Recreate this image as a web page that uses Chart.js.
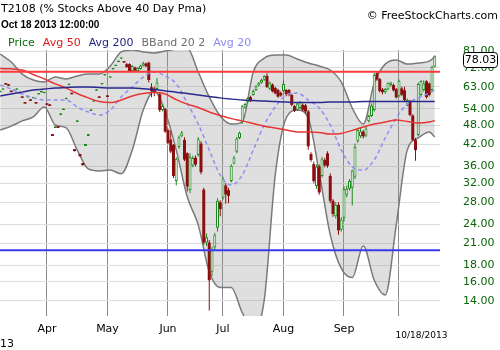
<!DOCTYPE html>
<html>
<head>
<meta charset="utf-8">
<title>T2108</title>
<script src="https://cdn.jsdelivr.net/npm/chart.js@4/dist/chart.umd.min.js"></script>
<style>
  html, body { margin: 0; padding: 0; background: #fff; }
  #wrap { width: 500px; height: 350px; position: relative; }
</style>
</head>
<body>
<div id="wrap"><canvas id="chart"></canvas></div>
<script>
// ---- text ----
const titleText = 'T2108 (% Stocks Above 40 Day Pma)';
const stampText = 'Oct 18 2013 12:00:00';
const creditText = '\u00A9 FreeStockCharts.com';
const lastDateText = '10/18/2013';
const yearStub = '13';
const legendNames = ['Price', 'Avg 50', 'Avg 200', 'BBand 20 2', 'Avg 20'];

// ---- axes ----
const monthTicks = [17, 39, 61, 81, 103, 125, 145];          // first trading day of each month
const monthLabels = ['Apr', 'May', 'Jun', 'Jul', 'Aug', 'Sep', ''];
const yTicks = [14, 16, 18, 21, 24, 28, 32, 36, 42, 48, 54, 63, 72, 81];
const xMin = -0.09, xMax = 159.91;
const yMin = 12.6, yMax = 81.6;

// ---- daily OHLC (Mar 6 .. Oct 18, 2013) ----
const opens = [
  60.7, 61.7, 64.6, 64.1, 61.3, 61.2, 61.7, 60.8, 58.9, 56.6,
  58.5, 57.7, 58.1, 56.6, 59.7, 60.5, 60.2, 56.1, 55.7, 45.2,
  47.2, 47.8, 51.7, 53.5, 57.7, 63.8, 60.4, 40.7, 49.2, 39.3,
  36.9, 41.6, 44.6, 53.2, 56.7, 61.3, 58.9, 64.0, 68.2, 59.3,
  67.2, 71.2, 72.9, 75.0, 76.7, 75.3,
  73.9, 73.9, 70.4, 72.2, 70.4, 71.4, 73.0, 74.2, 74.6, 62.8,
  62.2, 62.0, 59.8, 53.5, 53.8, 46.5, 43.5, 41.9, 32.5, 41.3,
  44.5, 43.4, 39.5, 30.5, 36.2, 38.3, 39.0, 42.3, 30.6, 21.1,
  21.1, 17.2, 20.4, 23.4, 28.0, 28.9, 31.5, 30.5, 32.5, 36.8,
  39.9, 44.0, 49.1, 54.5, 56.5, 58.6, 59.5, 61.6, 63.6, 64.8,
  66.2, 68.0, 62.2, 64.0, 62.5, 61.6, 60.4, 61.2, 61.6, 61.6,
  59.5, 55.0, 53.6, 54.3, 55.5, 55.3, 53.0, 39.3, 36.6, 31.4,
  36.0, 33.7, 37.7, 39.5, 33.7, 28.3, 25.4, 27.5, 23.1, 25.1,
  29.5, 30.8, 31.0, 33.5, 43.0, 44.5, 46.0, 44.8, 49.5, 51.3,
  53.5, 69.3, 66.5, 61.8, 60.6, 61.8, 63.8, 63.8, 62.0, 59.0,
  62.3, 61.5, 55.2, 57.0, 51.5, 43.4, 44.9, 59.5, 61.6, 65.5,
  64.5, 61.6, 72.5
];
const highs = [
  61.3, 62.3, 64.6, 64.1, 61.3, 61.8, 62.3, 60.8, 58.9, 56.6,
  59.1, 57.7, 58.7, 56.6, 60.3, 61.1, 60.8, 56.1, 55.7, 45.2,
  47.8, 47.8, 52.3, 54.1, 58.3, 64.4, 60.4, 40.7, 49.8, 39.3,
  36.9, 42.2, 45.2, 53.8, 57.3, 61.9, 58.9, 64.6, 68.8, 59.3,
  67.8, 71.8, 73.5, 75.6, 77.3, 75.3,
  74.5, 74.4, 73.4, 72.6, 72.3, 73.6, 75.2, 74.8, 75.3, 64.6,
  63.2, 67.0, 60.5, 55.8, 54.3, 47.0, 46.3, 42.2, 38.5, 44.8,
  46.2, 44.2, 39.8, 39.5, 38.8, 38.9, 44.3, 43.0, 31.0, 22.5,
  21.5, 20.5, 22.6, 28.8, 28.4, 33.5, 32.0, 31.0, 36.6, 38.8,
  44.3, 46.0, 55.5, 56.3, 58.6, 59.2, 61.8, 63.8, 65.2, 66.8,
  68.5, 69.3, 65.4, 64.5, 63.0, 62.2, 61.0, 66.0, 62.0, 62.0,
  60.0, 55.5, 56.4, 57.0, 56.0, 55.8, 53.5, 39.8, 37.2, 36.5,
  36.5, 38.5, 38.3, 40.1, 34.3, 28.6, 28.0, 28.0, 25.2, 31.3,
  31.5, 33.0, 35.2, 42.3, 47.0, 47.3, 46.5, 47.5, 51.8, 56.0,
  69.5, 70.0, 67.0, 62.5, 62.5, 65.0, 65.3, 64.5, 62.5, 66.3,
  63.0, 63.0, 58.0, 57.5, 52.0, 44.0, 65.0, 66.0, 66.0, 66.0,
  65.0, 73.0, 78.6
];
const lows = [
  60.7, 61.7, 64.0, 63.5, 60.7, 61.2, 61.7, 60.2, 58.3, 56.0,
  58.5, 57.1, 58.1, 56.0, 59.7, 60.5, 60.2, 55.5, 55.1, 44.6,
  47.2, 47.2, 51.7, 53.5, 57.7, 63.8, 59.8, 40.1, 49.2, 38.7,
  36.3, 41.6, 44.6, 53.2, 56.7, 61.3, 58.3, 64.0, 68.2, 58.7,
  67.2, 71.2, 72.9, 75.0, 76.7, 74.7,
  72.0, 70.0, 70.1, 70.2, 70.0, 71.0, 72.8, 72.4, 65.0, 58.6,
  59.0, 61.5, 52.8, 53.0, 45.6, 42.1, 39.5, 33.2, 31.5, 40.8,
  44.2, 37.4, 30.2, 29.9, 35.8, 36.0, 38.6, 34.1, 20.8, 20.6,
  13.1, 16.7, 20.0, 22.8, 25.4, 28.5, 27.7, 27.8, 32.2, 36.5,
  39.5, 43.6, 48.6, 54.0, 56.2, 56.6, 59.2, 61.2, 63.2, 64.4,
  65.8, 62.5, 61.6, 60.6, 59.8, 58.4, 58.8, 60.8, 59.0, 59.0,
  55.0, 52.8, 53.2, 54.0, 53.0, 52.2, 40.5, 37.2, 32.0, 30.8,
  29.5, 33.3, 35.8, 35.7, 27.8, 25.3, 25.0, 22.3, 22.8, 24.5,
  29.0, 30.4, 27.4, 33.0, 42.5, 44.0, 43.8, 44.2, 49.0, 51.0,
  53.0, 65.8, 60.5, 59.8, 60.0, 61.5, 63.0, 61.0, 58.0, 58.6,
  59.0, 57.0, 55.0, 51.2, 43.0, 37.5, 44.5, 59.0, 61.0, 58.0,
  59.0, 61.0, 72.3
];
const closes = [
  61.3, 62.3, 64.0, 63.5, 60.7, 61.8, 62.3, 60.2, 58.3, 56.0,
  59.1, 57.1, 58.7, 56.0, 60.3, 61.1, 60.8, 55.5, 55.1, 44.6,
  47.8, 47.2, 52.3, 54.1, 58.3, 64.4, 59.8, 40.1, 49.8, 38.7,
  36.3, 42.2, 45.2, 53.8, 57.3, 61.9, 58.3, 64.6, 68.8, 58.7,
  67.8, 71.8, 73.5, 75.6, 77.3, 74.7,
  72.4, 70.4, 72.9, 70.6, 71.9, 73.2, 74.4, 72.8, 66.1, 61.2,
  60.4, 64.9, 53.5, 55.1, 46.0, 42.5, 40.0, 33.7, 38.0, 44.2,
  45.7, 37.8, 31.3, 38.5, 38.2, 36.5, 43.6, 34.6, 21.1, 21.9,
  16.2, 20.0, 22.2, 28.3, 26.7, 33.0, 29.6, 29.3, 36.2, 38.3,
  43.8, 45.6, 55.0, 55.8, 58.2, 57.0, 61.2, 63.3, 64.8, 66.2,
  68.0, 62.9, 64.8, 61.0, 60.2, 58.8, 59.3, 64.3, 59.8, 59.5,
  55.5, 53.2, 56.0, 56.5, 53.6, 53.0, 41.5, 37.7, 32.5, 36.0,
  30.0, 37.9, 36.3, 36.2, 28.3, 25.8, 27.5, 23.0, 24.8, 30.7,
  30.8, 32.5, 35.0, 41.3, 46.5, 46.0, 44.5, 47.0, 51.3, 55.3,
  68.5, 66.3, 61.2, 60.7, 62.0, 64.8, 65.0, 61.5, 58.5, 65.8,
  59.6, 57.4, 57.4, 51.7, 43.4, 40.4, 64.3, 65.6, 64.5, 58.6,
  59.5, 72.5, 78.03
];

// ---- indicator readings, sampled every 4 trading days ----
const lineDays = [0, 4, 8, 12, 16, 20, 24, 28, 32, 36, 40, 44, 48, 52, 56, 60, 64, 68, 72, 76,
  80, 84, 88, 92, 96, 100, 104, 108, 112, 116, 120, 124, 128, 132, 136, 140, 144, 148, 152, 156, 158];
const avg200 = [59.1, 59.9, 60.7, 61.6, 62.0, 62.5, 62.7, 62.9, 62.9, 62.7, 62.5, 62.5, 62.5, 62.2, 61.8,
  61.2, 60.7, 60.1, 59.5, 58.9, 58.3, 57.8, 57.4, 57.2, 57.0, 56.8, 56.6, 56.4, 56.4, 56.4, 56.6, 56.6,
  56.6, 56.8, 56.8, 56.8, 56.8, 56.8, 56.8, 56.8, 56.8];
const avg50 = [71.6, 71.5, 70.9, 68.7, 66.6, 64.3, 62.5, 60.1, 58.3, 56.8, 56.4, 57.4, 59.1, 60.1, 60.5,
  59.9, 57.6, 55.8, 54.5, 52.8, 51.5, 50.4, 49.6, 48.7, 47.8, 47.2, 46.5, 45.9, 45.9, 45.7, 45.2, 45.4,
  46.4, 47.5, 48.5, 49.2, 49.9, 49.4, 48.9, 49.2, 49.7];
const bandUpper = [79.3, 75.0, 68.9, 66.1, 65.2, 67.5, 66.6, 68.0, 68.9, 68.9, 72.9, 80.5, 81.6, 80.5, 79.9,
  81.0, 82.2, 82.7, 69.9, 58.7, 51.3, 48.5, 49.2, 69.9, 77.1, 78.8, 78.8, 76.6, 74.5, 72.9, 70.9, 65.2,
  54.3, 48.5, 64.7, 73.9, 76.1, 73.9, 74.5, 75.5, 77.7];
const bandLower = [46.5, 47.8, 49.6, 51.0, 54.7, 48.2, 47.2, 40.4, 35.4, 34.9, 35.1, 34.2, 40.4, 53.5, 61.2,
  52.8, 40.4, 29.1, 23.9, 17.2, 15.4, 15.4, 12.9, 11.4, 14.1, 33.9, 50.6, 53.5, 50.6, 34.4, 22.3, 17.6,
  16.5, 20.6, 16.2, 14.6, 23.9, 40.4, 44.0, 45.9, 44.3];
const avg20 = [63.8, 62.0, 59.9, 58.3, 57.4, 57.4, 57.4, 54.7, 52.8, 51.7, 53.5, 58.7, 62.9, 67.5, 69.9,
  68.0, 64.3, 56.2, 48.5, 40.4, 33.9, 31.6, 33.9, 40.4, 48.2, 54.7, 59.5, 60.3, 57.4, 54.3, 48.2, 40.4,
  35.9, 35.1, 37.7, 44.0, 50.6, 55.8, 58.3, 60.3, 61.6];

// overbought / oversold levels
const levels = [70, 20];

// ---- styling ----
const upColor = '#1b8a1b';
const downColor = '#8c0f0f';
const hollowFill = '#f6f6f6';
const legendColors = ['#0a6a0a', '#e01a1a', '#1e1e84', '#6e6e6e', '#8a8af2'];

const isUp = i => closes[i] >= opens[i];
const dayIdx = closes.map((_, i) => i);
const linePoints = arr => lineDays.map((d, k) => ({ x: d, y: arr[k] }));
const levelPoints = v => [{ x: xMin, y: v }, { x: xMax, y: v }];

const lineBase = {
  type: 'line', pointRadius: 0, borderWidth: 1.5, fill: false,
  cubicInterpolationMode: 'monotone'
};

const decorations = {
  id: 'decorations',
  afterDraw(chart) {
    const ctx = chart.ctx;
    const ys = chart.scales.y;
    ctx.save();
    ctx.textBaseline = 'middle';
    ctx.textAlign = 'left';
    ctx.fillStyle = '#000';
    ctx.font = '11px "DejaVu Sans"';
    ctx.fillText(titleText, 1, 9);
    ctx.font = 'bold 10px "Liberation Sans"';
    ctx.fillText(stampText, 1, 25);

    ctx.font = '11px "DejaVu Sans"';
    let lx = 8;
    legendNames.forEach((name, i) => {
      ctx.fillStyle = legendColors[i];
      ctx.fillText(name, lx, 43);
      lx += ctx.measureText(name).width + 8;
    });

    ctx.fillStyle = '#000';
    ctx.textAlign = 'right';
    ctx.fillText(creditText, 498, 16);

    ctx.textAlign = 'left';
    ctx.fillText(yearStub, 0, 344);
    ctx.font = '9px "DejaVu Sans"';
    ctx.textAlign = 'center';
    ctx.fillText(lastDateText, 421.5, 336);

    // last close tag on the value axis
    const last = closes[closes.length - 1];
    const py = Math.round(ys.getPixelForValue(last) + 3.5);
    ctx.beginPath();
    ctx.roundRect(463.5, py - 7.5, 34, 15, 3);
    ctx.fillStyle = '#fff';
    ctx.fill();
    ctx.strokeStyle = '#000';
    ctx.lineWidth = 1;
    ctx.stroke();
    ctx.fillStyle = '#000';
    ctx.font = '11px "DejaVu Sans"';
    ctx.fillText(last.toFixed(2), 480.5, py);
    ctx.restore();
  }
};

new Chart(document.getElementById('chart'), {
  type: 'bar',
  data: {
    datasets: [
      Object.assign({}, lineBase, {
        label: 'BBand upper', data: linePoints(bandUpper), borderColor: '#7a7a7a',
        fill: '+1', backgroundColor: 'rgba(150,150,150,0.30)', order: 8
      }),
      Object.assign({}, lineBase, {
        label: 'BBand lower', data: linePoints(bandLower), borderColor: '#7a7a7a', order: 7
      }),
      {
        type: 'bar', label: 'Wick',
        data: dayIdx.map(i => ({ x: i, y: [lows[i], highs[i]] })),
        backgroundColor: c => isUp(c.dataIndex) ? upColor : downColor,
        barThickness: 1, grouped: false, inflateAmount: 0, minBarLength: 1, order: 6
      },
      {
        type: 'bar', label: 'Price',
        data: dayIdx.map(i => ({ x: i, y: [opens[i], closes[i]] })),
        backgroundColor: c => isUp(c.dataIndex) ? hollowFill : downColor,
        borderColor: c => isUp(c.dataIndex) ? upColor : downColor,
        borderWidth: c => isUp(c.dataIndex) ? 1 : 0,
        borderSkipped: false, barThickness: 3, grouped: false, inflateAmount: 0,
        minBarLength: 1.5, order: 5
      },
      Object.assign({}, lineBase, {
        label: 'Avg 20', data: linePoints(avg20), borderColor: '#8f8ff5', borderDash: [4, 3], order: 4
      }),
      Object.assign({}, lineBase, {
        label: 'Avg 50', data: linePoints(avg50), borderColor: '#e83535', order: 3
      }),
      Object.assign({}, lineBase, {
        label: 'Avg 200', data: linePoints(avg200), borderColor: '#2a2a8e', order: 2
      }),
      {
        type: 'line', label: 'Level ' + levels[0], data: levelPoints(levels[0]),
        borderColor: '#ff3a3a', borderWidth: 2, pointRadius: 0, order: 1
      },
      {
        type: 'line', label: 'Level ' + levels[1], data: levelPoints(levels[1]),
        borderColor: '#3838f5', borderWidth: 2, pointRadius: 0, order: 1
      }
    ]
  },
  options: {
    responsive: true,
    maintainAspectRatio: false,
    animation: false,
    devicePixelRatio: 1,
    events: [],
    layout: { padding: { top: 50, left: 0, right: 0, bottom: 0 } },
    plugins: {
      legend: { display: false },
      title: { display: false },
      tooltip: { enabled: false }
    },
    scales: {
      x: {
        type: 'linear', min: xMin, max: xMax, bounds: 'data',
        offset: false,
        afterBuildTicks: s => { s.ticks = monthTicks.map(v => ({ value: v })); },
        afterFit: s => { s.height = 34; },
        ticks: {
          autoSkip: false, maxRotation: 0, padding: 7, color: '#000',
          font: { family: 'DejaVu Sans', size: 11 },
          callback: (v, i) => monthLabels[i]
        },
        grid: { color: '#8a8a8a', lineWidth: 1, drawTicks: false, offset: false },
        border: { display: false }
      },
      y: {
        type: 'logarithmic', position: 'right', min: yMin, max: yMax, bounds: 'data',
        afterBuildTicks: s => { s.ticks = yTicks.map(v => ({ value: v })); },
        afterFit: s => { s.width = 60; },
        ticks: {
          autoSkip: false, padding: 23, color: '#0a640a',
          font: { family: 'DejaVu Sans', size: 11 },
          callback: v => Number(v).toFixed(2)
        },
        grid: { color: '#dcdcdc', lineWidth: 1, drawTicks: false },
        border: { display: false }
      }
    }
  },
  plugins: [decorations]
});
</script>
</body>
</html>
